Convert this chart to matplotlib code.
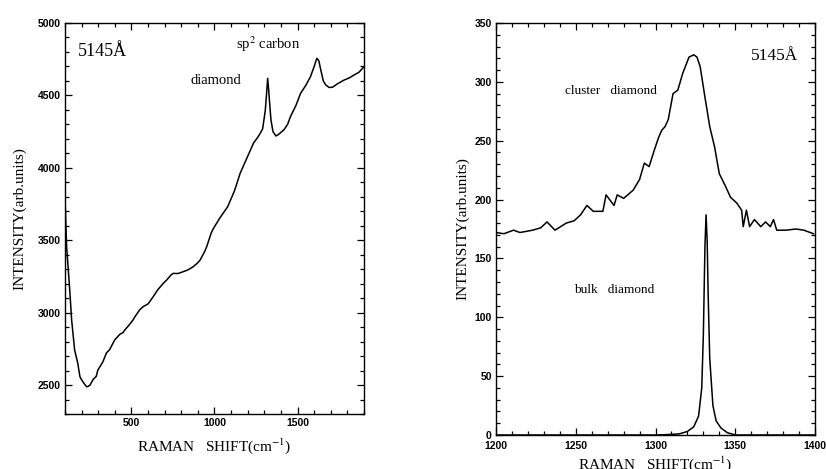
import matplotlib
matplotlib.use("Agg")
import matplotlib.pyplot as plt
from matplotlib.ticker import MultipleLocator

plt.rcParams['font.family'] = ['Liberation Serif', 'DejaVu Serif']
plt.rcParams['mathtext.fontset'] = 'stix'

# left panel: broad spectrum, 5145 A excitation
left_shift = [100, 104, 110, 120, 130, 140, 158, 177, 190, 198, 215, 230, 238, 251,
              270, 288, 298, 328, 349, 369, 399, 430, 449, 460, 490, 510, 520, 550,
              570, 600, 631, 660, 690, 712, 740, 752, 780, 812, 840, 872, 900, 913,
              940, 953, 980, 993, 1030, 1079, 1120, 1155, 1200, 1235, 1260, 1276,
              1290, 1306, 1314, 1320, 1326, 1333, 1340, 1352, 1370, 1385, 1400, 1417,
              1440, 1457, 1490, 1518, 1550, 1578, 1600, 1616, 1628, 1640, 1655, 1670,
              1690, 1710, 1740, 1780, 1810, 1840, 1870, 1900]
left_intensity = [3800, 3650, 3450, 3294, 3130, 2949, 2742, 2650, 2557, 2540, 2510, 2488,
                  2490, 2500, 2540, 2560, 2604, 2660, 2721, 2745, 2811, 2850, 2862, 2880,
                  2920, 2950, 2970, 3020, 3041, 3060, 3110, 3160, 3200, 3225, 3262, 3271,
                  3270, 3283, 3295, 3317, 3345, 3363, 3420, 3455, 3550, 3580, 3650, 3731,
                  3840, 3964, 4080, 4171, 4210, 4240, 4270, 4399, 4520, 4618, 4540, 4430,
                  4330, 4250, 4220, 4230, 4245, 4261, 4300, 4353, 4430, 4514, 4570, 4630,
                  4700, 4756, 4740, 4675, 4600, 4572, 4555, 4556, 4580, 4606, 4620, 4641,
                  4660, 4698]

# right panel: cluster diamond vs bulk diamond
cluster_shift = [1200, 1205, 1211, 1215, 1223, 1228, 1232, 1237, 1244, 1249, 1253, 1257,
                 1261, 1267, 1269, 1274, 1276, 1280, 1286, 1290, 1293, 1296, 1299, 1302,
                 1304, 1306, 1308, 1311, 1314, 1317, 1321, 1324, 1326, 1328, 1331, 1334,
                 1337, 1340, 1344, 1347, 1351, 1354, 1355, 1357, 1359, 1362, 1366, 1369,
                 1372, 1374, 1376, 1382, 1388, 1393, 1399]
cluster_intensity = [172, 171, 174, 172, 174, 176, 181, 174, 180, 182, 187, 195, 190, 190,
                     204, 195, 204, 201, 208, 217, 231, 228, 241, 253, 259, 262, 268, 290,
                     293, 307, 321, 323, 321, 313, 287, 262, 245, 222, 211, 202, 197, 191,
                     177, 191, 177, 183, 177, 181, 177, 183, 174, 174, 175, 174, 171]

bulk_shift = [1200, 1250, 1300, 1310, 1315, 1320, 1324, 1327, 1329, 1330, 1331, 1331.7,
              1332.4, 1333, 1334, 1336, 1338, 1341, 1345, 1350, 1400]
bulk_intensity = [0, 0, 0, 0.5, 1, 3, 7, 16, 40, 85, 160, 187, 165, 120, 65, 25, 12, 6, 2,
                  0, 0]

fig = plt.figure(figsize=(8.26, 4.69), dpi=100)
W, H = 826, 469


def px_axes(x0, y0, x1, y1):
    return fig.add_axes([x0 / W, 1 - y1 / H, (x1 - x0) / W, (y1 - y0) / H])


def style(ax):
    ax.tick_params(which='both', direction='in', top=True, right=True, width=0.9)
    ax.tick_params(which='major', length=5, labelsize=7.5, pad=3)
    ax.tick_params(which='minor', length=3)
    for lab in ax.get_xticklabels() + ax.get_yticklabels():
        lab.set_family(['Liberation Sans', 'DejaVu Sans'])
        lab.set_fontweight('bold')
    for sp in ax.spines.values():
        sp.set_linewidth(1.0)


ax1 = px_axes(65, 23, 364, 414)
ax1.plot(left_shift, left_intensity, color='black', lw=1.1)
ax1.set_xlim(100, 1900)
ax1.set_ylim(2300, 5000)
ax1.xaxis.set_major_locator(MultipleLocator(500))
ax1.xaxis.set_minor_locator(MultipleLocator(100))
ax1.yaxis.set_major_locator(MultipleLocator(500))
ax1.yaxis.set_minor_locator(MultipleLocator(100))
ax1.set_xticks([500, 1000, 1500])
style(ax1)
ax1.set_xlabel('RAMAN   SHIFT(cm$^{-1}$)', fontsize=11, labelpad=6)
ax1.set_ylabel('INTENSITY(arb.units)', fontsize=11, labelpad=8)
ax1.text(175, 4800, '5145Å', fontsize=13, va='center')
ax1.text(857, 4600, 'diamond', fontsize=10.5, va='center')
ax1.text(1131, 4855, 'sp$^{2}$ carbon', fontsize=10.5, va='center')

ax2 = px_axes(496, 23, 815, 435)
ax2.plot(cluster_shift, cluster_intensity, color='black', lw=1.1)
ax2.plot(bulk_shift, bulk_intensity, color='black', lw=1.1)
ax2.set_xlim(1200, 1400)
ax2.set_ylim(0, 350)
ax2.xaxis.set_major_locator(MultipleLocator(50))
ax2.xaxis.set_minor_locator(MultipleLocator(10))
ax2.yaxis.set_major_locator(MultipleLocator(50))
ax2.yaxis.set_minor_locator(MultipleLocator(10))
style(ax2)
ax2.tick_params(axis='x', which='major', pad=4.5)
ax2.set_xlabel('RAMAN   SHIFT(cm$^{-1}$)', fontsize=11, labelpad=2)
ax2.set_ylabel('INTENSITY(arb.units)', fontsize=11, labelpad=4)
ax2.text(1360, 322, '5145Å', fontsize=12.5, va='center')
ax2.text(1243, 292, 'cluster   diamond', fontsize=9.5, va='center')
ax2.text(1249, 123, 'bulk   diamond', fontsize=9.5, va='center')

fig.savefig('out.png', dpi=100)
